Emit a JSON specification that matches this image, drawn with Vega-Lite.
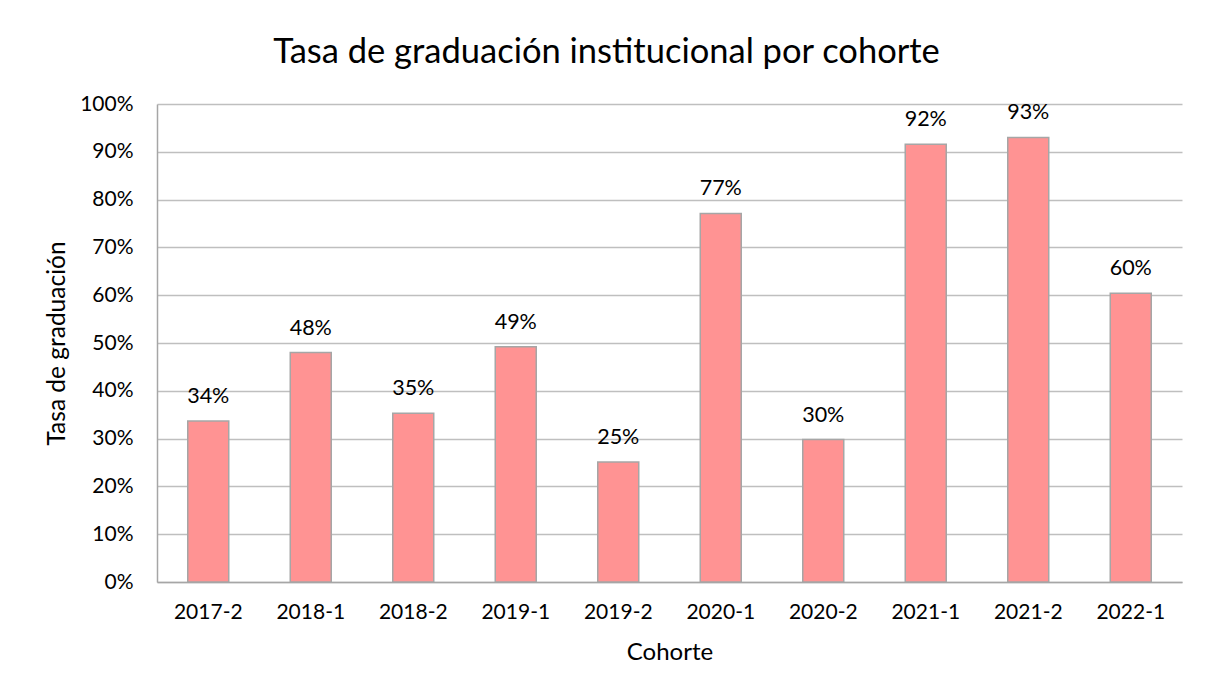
{
  "$schema": "https://vega.github.io/schema/vega-lite/v6.json",
  "width": 1025,
  "height": 478,
  "autosize": {"type": "none"},
  "padding": {"left": 157, "top": 104, "right": 27, "bottom": 113},
  "background": "white",
  "config": {
    "font": "Lato",
    "view": {"stroke": null},
    "axis": {"labelFont": "Lato", "titleFont": "Lato", "labelColor": "#000000", "titleColor": "#000000", "titleFontWeight": "normal"}
  },
  "title": {
    "text": "Tasa de graduación institucional por cohorte",
    "font": "Lato",
    "fontSize": 34.5,
    "fontWeight": "normal",
    "color": "#000000",
    "anchor": "middle",
    "dx": -63,
    "offset": 23
  },
  "data": {
    "values": [
      {"cohorte": "2017-2", "tasa": 0.337},
      {"cohorte": "2018-1", "tasa": 0.48},
      {"cohorte": "2018-2", "tasa": 0.353},
      {"cohorte": "2019-1", "tasa": 0.492},
      {"cohorte": "2019-2", "tasa": 0.251},
      {"cohorte": "2020-1", "tasa": 0.771},
      {"cohorte": "2020-2", "tasa": 0.298},
      {"cohorte": "2021-1", "tasa": 0.916},
      {"cohorte": "2021-2", "tasa": 0.930},
      {"cohorte": "2022-1", "tasa": 0.604}
    ]
  },
  "encoding": {
    "x": {
      "field": "cohorte",
      "type": "ordinal",
      "sort": null,
      "scale": {"paddingInner": 0.6, "paddingOuter": 0.3},
      "axis": {
        "title": "Cohorte",
        "titleFontSize": 24,
        "titlePadding": 18,
        "labelFontSize": 21,
        "labelAngle": 0,
        "labelPadding": 19,
        "ticks": false,
        "domainColor": "#A6A6A6",
        "domainWidth": 1.5
      }
    },
    "y": {
      "field": "tasa",
      "type": "quantitative",
      "scale": {"domain": [0, 1]},
      "axis": {
        "title": "Tasa de graduación",
        "titleFontSize": 24.5,
        "titlePadding": 10,
        "labelFontSize": 21,
        "labelPadding": 24,
        "format": ".0%",
        "values": [0, 0.1, 0.2, 0.3, 0.4, 0.5, 0.6, 0.7, 0.8, 0.9, 1.0],
        "ticks": false,
        "grid": true,
        "gridColor": "#BFBFBF",
        "gridWidth": 1.5,
        "domainColor": "#A6A6A6",
        "domainWidth": 1.5
      }
    }
  },
  "layer": [
    {
      "mark": {"type": "bar", "color": "#FF9393", "stroke": "#A6A6A6", "strokeWidth": 1.5}
    },
    {
      "mark": {"type": "text", "baseline": "alphabetic", "dy": -18, "fontSize": 21.5, "font": "Lato", "color": "#000000"},
      "encoding": {
        "text": {"field": "tasa", "type": "quantitative", "format": ".0%"}
      }
    }
  ]
}
